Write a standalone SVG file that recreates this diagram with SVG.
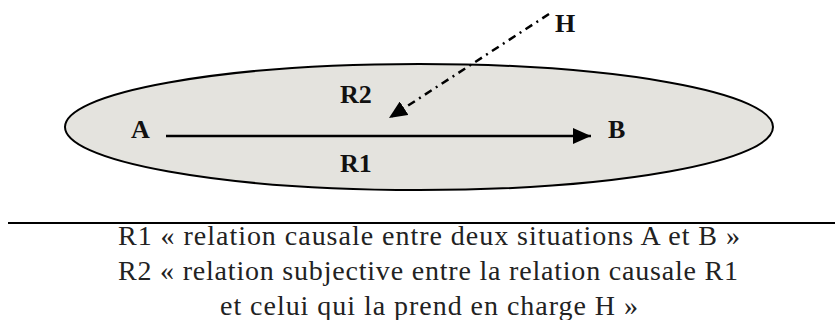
<svg xmlns="http://www.w3.org/2000/svg" width="835" height="320" viewBox="0 0 835 320">
<style>
.lbl{font-family:"Liberation Serif",serif;font-weight:bold;font-size:26px;fill:#111}
.cap{font-family:"Liberation Serif",serif;font-size:28px;fill:#222}
</style>
<defs>
<marker id="ah" viewBox="0 0 18 16" refX="18" refY="8" markerWidth="18" markerHeight="16" orient="auto" markerUnits="userSpaceOnUse">
<path d="M0,0 L18,8 L0,16 z" fill="#000"/>
</marker>
</defs>
<rect width="835" height="320" fill="#fff"/>
<g id="ellipse">
<ellipse cx="419" cy="127" rx="354" ry="63" fill="#e4e3de" stroke="#000" stroke-width="2"/>
</g>
<g id="nodeA"><text class="lbl" x="131" y="138">A</text></g>
<g id="nodeB"><text class="lbl" x="608" y="138">B</text></g>
<g id="nodeH"><text class="lbl" x="555" y="32">H</text></g>
<g id="labelR2"><text class="lbl" x="340" y="103">R2</text></g>
<g id="labelR1"><text class="lbl" x="340" y="172">R1</text></g>
<g id="connectors">
<line x1="166" y1="136" x2="591" y2="136" stroke="#000" stroke-width="2.5" marker-end="url(#ah)"/>
<line x1="549" y1="14" x2="389" y2="118" stroke="#000" stroke-width="2.5" stroke-dasharray="8,5,2,5" marker-end="url(#ah)"/>
</g>
<g id="caption">
<line x1="8" y1="223" x2="835" y2="223" stroke="#000" stroke-width="2"/>
<text class="cap" x="118" y="245" textLength="622">R1 « relation causale entre deux situations A et B »</text>
<text class="cap" x="118" y="280" textLength="620">R2 « relation subjective entre la relation causale R1</text>
<text class="cap" x="220" y="315" textLength="418">et celui qui la prend en charge H »</text>
</g>
</svg>
